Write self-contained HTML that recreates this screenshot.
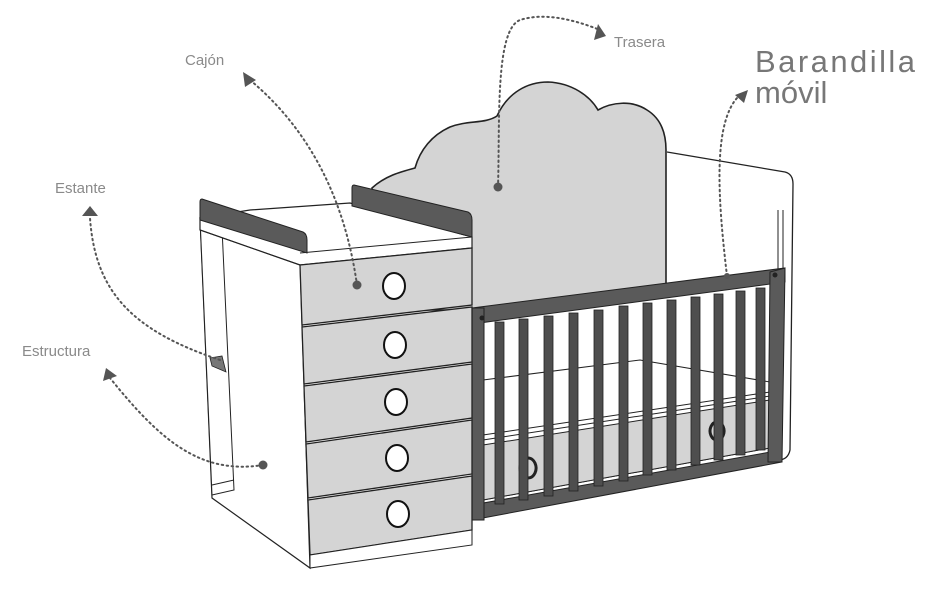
<!DOCTYPE html>
<html><head><meta charset="utf-8"><style>
html,body{margin:0;padding:0;background:#fff;}
svg{display:block}
text{font-family:"Liberation Sans",sans-serif;fill:#8a8a8a;font-weight:300}
</style></head><body>
<svg width="931" height="590" viewBox="0 0 931 590" xmlns="http://www.w3.org/2000/svg">
<!-- right end panel -->
<path d="M667,152 L785,172 Q793,174 793,184 L790,450 Q788,460 778,460 L770,460" fill="#fff" stroke="#222" stroke-width="1.3"/>
<line x1="778" y1="210" x2="778" y2="270" stroke="#222" stroke-width="1"/>
<line x1="783" y1="210" x2="783" y2="270" stroke="#222" stroke-width="1"/>
<!-- cloud headboard -->
<path d="M372,188 C385,176 400,172 415,168 C420,150 432,135 450,127 C468,120 485,124 497,116 C508,92 528,82 548,82 C572,83 590,96 598,110 C612,102 632,100 647,110 C660,118 666,132 666,150 L666,290 L472,310 L372,310 Z" fill="#d4d4d4" stroke="#222" stroke-width="1.6"/>
<!-- mattress area inside crib -->
<polygon points="483,380 640,360 770,382 770,448 483,500" fill="#fff" stroke="#222" stroke-width="1"/>
<polygon points="483,445 770,400 770,448 483,500" fill="#d4d4d4" stroke="#222" stroke-width="1"/>
<line x1="483" y1="435" x2="770" y2="392" stroke="#222" stroke-width="1"/>
<line x1="483" y1="440" x2="770" y2="396" stroke="#222" stroke-width="1"/>
<path d="M528,478 a8,10 0 1,1 0.1,0" fill="none" stroke="#222" stroke-width="3"/>
<path d="M717,440 a7,9 0 1,1 0.1,0" fill="none" stroke="#222" stroke-width="3"/>
<!-- rail -->
<g fill="#5a5a5a" stroke="#222" stroke-width="1">
<polygon points="472,308 785,268 785,282 472,324"/>
<polygon points="472,505 782,450 782,462 472,520"/>
<polygon points="472,308 484,308 484,520 472,520"/>
<polygon points="770,272 785,268 782,462 768,462"/>
</g>
<g fill="#4e4e4e" stroke="#222" stroke-width="0.8">
<rect x="495" y="322" width="9" height="182"/>
<rect x="519" y="319" width="9" height="181"/>
<rect x="544" y="316" width="9" height="180"/>
<rect x="569" y="313" width="9" height="178"/>
<rect x="594" y="310" width="9" height="176"/>
<rect x="619" y="306" width="9" height="175"/>
<rect x="643" y="303" width="9" height="172"/>
<rect x="667" y="300" width="9" height="170"/>
<rect x="691" y="297" width="9" height="168"/>
<rect x="714" y="294" width="9" height="166"/>
<rect x="736" y="291" width="9" height="164"/>
<rect x="756" y="288" width="9" height="162"/>
</g>
<circle cx="482" cy="318" r="2.5" fill="#222"/><circle cx="775" cy="275" r="2.5" fill="#222"/>
<!-- dresser side -->
<polygon points="200,218 300,262 310,568 212,498" fill="#fff" stroke="#222" stroke-width="1.2"/>
<polygon points="200,218 222,228 234,490 212,495" fill="#fff" stroke="#222" stroke-width="1"/>
<line x1="212" y1="485" x2="234" y2="480" stroke="#222"/>
<polygon points="210,358 222,356 226,372 212,366" fill="#777" stroke="#222" stroke-width="0.8"/>
<!-- top -->
<polygon points="200,218 250,210 350,203 472,237 472,248 300,265 200,230" fill="#fff" stroke="#222" stroke-width="1.2"/>
<line x1="200" y1="230" x2="300" y2="265" stroke="#222"/>
<line x1="300" y1="253" x2="472" y2="237" stroke="#222"/>
<!-- dark bars -->
<path d="M202,199 L303,232 Q307,234 307,240 L307,253 L200,220 L200,202 Q200,199 202,199 Z" fill="#5a5a5a" stroke="#222" stroke-width="1"/>
<path d="M354,185 L468,212 Q472,214 472,220 L472,237 L352,206 L352,188 Q352,185 354,185 Z" fill="#5a5a5a" stroke="#222" stroke-width="1"/>
<!-- front face drawers -->
<g fill="#d4d4d4" stroke="#222" stroke-width="1.3">
<polygon points="300,265 472,248 472,305 302,325"/>
<polygon points="302,327 472,307 472,362 304,384"/>
<polygon points="304,386 472,364 472,418 306,442"/>
<polygon points="306,444 472,420 472,474 308,498"/>
<polygon points="308,500 472,476 472,530 310,555"/>
</g>
<polygon points="310,555 472,530 472,545 310,568" fill="#fff" stroke="#222" stroke-width="1"/>
<g fill="#fff" stroke="#111" stroke-width="2">
<ellipse cx="394" cy="286" rx="11" ry="13"/>
<ellipse cx="395" cy="345" rx="11" ry="13"/>
<ellipse cx="396" cy="402" rx="11" ry="13"/>
<ellipse cx="397" cy="458" rx="11" ry="13"/>
<ellipse cx="398" cy="514" rx="11" ry="13"/>
</g>
<!-- dotted leaders -->
<g fill="none" stroke="#555" stroke-width="2" stroke-dasharray="1.5,3.5" stroke-linecap="round">
<path d="M357,285 C345,200 310,130 250,80"/>
<path d="M498,187 C500,120 495,30 520,20 C545,12 575,20 600,30"/>
<path d="M727,276 C718,200 712,120 740,95"/>
<path d="M220,360 C130,330 95,290 90,218"/>
<path d="M263,465 C200,475 160,440 110,378"/>
</g>
<g fill="#555">
<circle cx="357" cy="285" r="4.5"/>
<circle cx="498" cy="187" r="4.5"/>
<circle cx="263" cy="465" r="4.5"/>
<circle cx="727" cy="276" r="3"/>
<polygon points="243,72 256,80 245,87"/>
<polygon points="598,24 606,36 594,40"/>
<polygon points="735,95 748,90 744,103"/>
<polygon points="82,216 90,206 98,216"/>
<polygon points="103,381 106,368 117,376"/>
</g>
<text x="185" y="65" font-size="15">Cajón</text>
<text x="614" y="47" font-size="15">Trasera</text>
<text x="755" y="72" font-size="31" style="fill:#777" textLength="160">Barandilla</text>
<text x="755" y="103" font-size="31" style="fill:#777">móvil</text>
<text x="55" y="193" font-size="15">Estante</text>
<text x="22" y="356" font-size="15">Estructura</text>
</svg>
</body></html>
